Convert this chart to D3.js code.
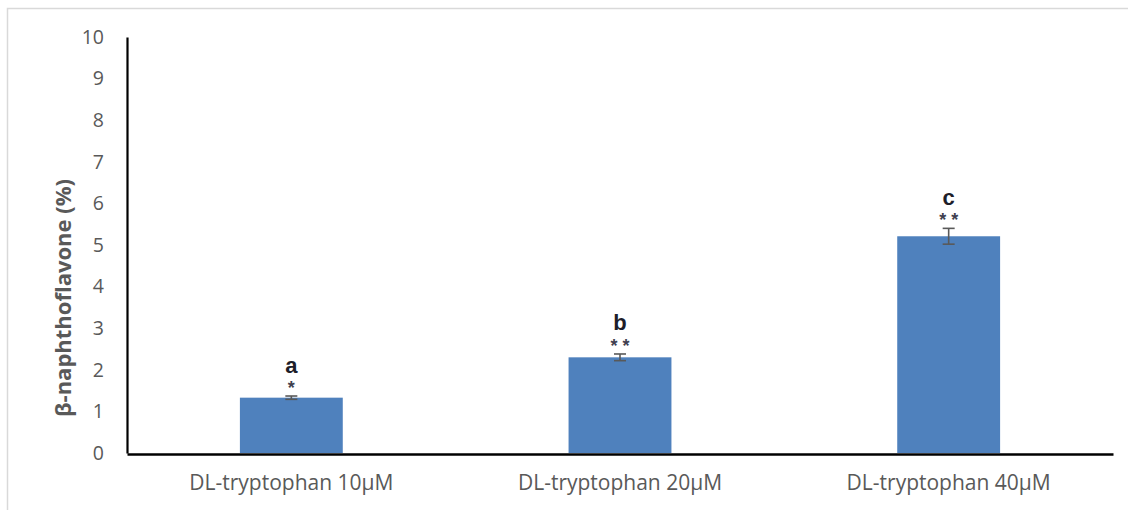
<!DOCTYPE html>
<html>
<head>
<meta charset="utf-8">
<script src="https://cdn.jsdelivr.net/npm/d3@7"></script>
<style>
  body { margin: 0; background: #fff; }
  svg { display: block; font-family: "Open Sans", sans-serif; }
</style>
</head>
<body>
<svg id="chart" width="1128" height="510"></svg>
<script>
// data
const categories = ["DL-tryptophan 10µM", "DL-tryptophan 20µM", "DL-tryptophan 40µM"];
const means = [1.33, 2.30, 5.21];
const errors = [0.04, 0.08, 0.19];
const stars = ["*", "**", "**"];
const letters = ["a", "b", "c"];
const yTicks = [0, 1, 2, 3, 4, 5, 6, 7, 8, 9, 10];

const rows = categories.map((c, i) => ({
  cat: c, mean: means[i], err: errors[i], star: stars[i], letter: letters[i]
}));

const svg = d3.select("#chart");

// outer chart border (runs off the picture at right and bottom)
svg.append("rect")
  .attr("x", 7.5).attr("y", 8.5)
  .attr("width", 1140).attr("height", 520)
  .attr("fill", "none")
  .attr("stroke", "#d9d9d9")
  .attr("stroke-width", 1.5);

const plotL = 127, plotR = 1113, plotT = 37, plotB = 453;

const x = d3.scaleBand().domain(categories).range([plotL, plotR]).padding(0);
const y = d3.scaleLinear().domain([0, 10]).range([plotB, plotT]);

const barW = x.bandwidth() * 0.313;

// bars
svg.selectAll("rect.bar")
  .data(rows)
  .join("rect")
  .attr("class", "bar")
  .attr("x", d => x(d.cat) + x.bandwidth() / 2 - barW / 2)
  .attr("y", d => y(d.mean))
  .attr("width", barW)
  .attr("height", d => y(0) - y(d.mean))
  .attr("fill", "#4f81bd");

// error bars
const eg = svg.selectAll("g.err")
  .data(rows)
  .join("g")
  .attr("class", "err")
  .attr("stroke", "#595959")
  .attr("stroke-width", 1.6);

const cx = d => x(d.cat) + x.bandwidth() / 2;
eg.append("line")
  .attr("x1", cx).attr("x2", cx)
  .attr("y1", d => y(d.mean + d.err)).attr("y2", d => y(d.mean - d.err));
eg.append("line")
  .attr("x1", d => cx(d) - 6).attr("x2", d => cx(d) + 6)
  .attr("y1", d => y(d.mean + d.err)).attr("y2", d => y(d.mean + d.err));
eg.append("line")
  .attr("x1", d => cx(d) - 6).attr("x2", d => cx(d) + 6)
  .attr("y1", d => y(d.mean - d.err)).attr("y2", d => y(d.mean - d.err));

// significance marks above the error bars
svg.selectAll("text.star")
  .data(rows)
  .join("text")
  .attr("class", "star")
  .attr("x", d => cx(d) + 2.5)
  .attr("y", d => y(d.mean + d.err) - 2.3)
  .attr("text-anchor", "middle")
  .attr("font-family", "Liberation Sans, Arial, sans-serif")
  .attr("font-size", 18)
  .attr("font-weight", "bold")
  .attr("letter-spacing", 5)
  .attr("fill", "#3f3f4f")
  .text(d => d.star);

svg.selectAll("text.letter")
  .data(rows)
  .join("text")
  .attr("class", "letter")
  .attr("x", cx)
  .attr("y", d => y(d.mean + d.err) - 23.5)
  .attr("text-anchor", "middle")
  .attr("font-family", "Liberation Sans, Arial, sans-serif")
  .attr("font-size", 22)
  .attr("font-weight", "bold")
  .attr("fill", "#1e1e2a")
  .text(d => d.letter);

// y axis
const yAxis = svg.append("g")
  .attr("transform", `translate(${plotL},0)`)
  .call(d3.axisLeft(y).tickValues(yTicks).tickSize(0).tickPadding(23).tickFormat(d3.format("d")));
yAxis.select(".domain").attr("stroke", "#000").attr("stroke-width", 2.2);
yAxis.selectAll("text")
  .attr("font-size", 19.5)
  .attr("font-family", "Open Sans, sans-serif")
  .attr("fill", "#595959");

// x axis
const xAxis = svg.append("g")
  .attr("transform", `translate(0,${plotB + 1})`)
  .call(d3.axisBottom(x).tickSize(0).tickPadding(21));
xAxis.select(".domain").attr("stroke", "#000").attr("stroke-width", 2.6);
xAxis.selectAll("text")
  .attr("font-size", 21)
  .attr("font-family", "Open Sans, sans-serif")
  .attr("fill", "#595959");

// y axis title
svg.append("text")
  .attr("transform", `translate(71,298) rotate(-90)`)
  .attr("text-anchor", "middle")
  .attr("font-size", 22)
  .attr("font-weight", "bold")
  .attr("fill", "#595959")
  .text("β-naphthoflavone (%)");
</script>
</body>
</html>
